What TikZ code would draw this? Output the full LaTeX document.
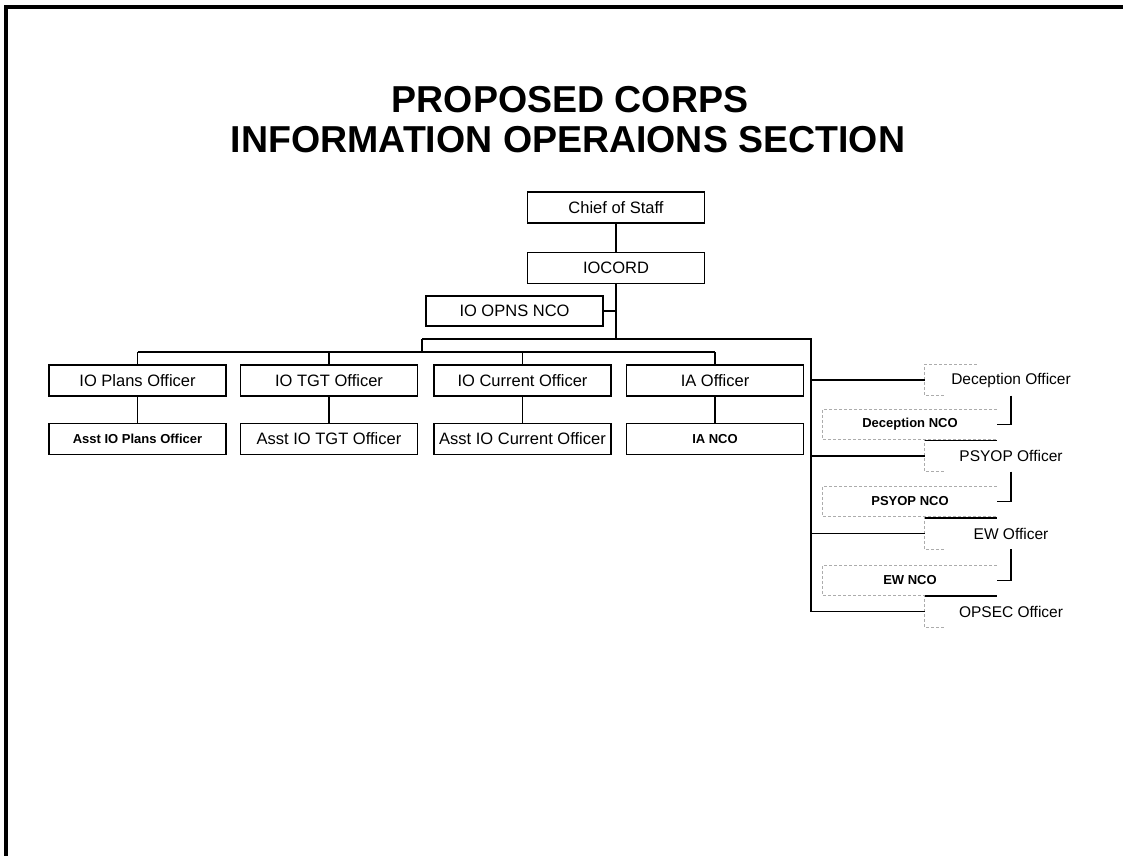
\documentclass[tikz,border=0pt]{standalone}
\usepackage{fontspec}
\setmainfont{Liberation Sans}
\usepackage{tikz}
\usetikzlibrary{positioning}

\begin{document}
\begin{tikzpicture}[
    x=1pt, y=-1pt,
    heading/.style={
        anchor=base,
        inner sep=0pt,
        font=\fontsize{37.5}{39}\selectfont\bfseries
    },
    post/.style={
        draw,
        line width=1.5pt,
        rectangle,
        minimum width=177pt,
        minimum height=31pt,
        inner sep=0pt,
        font=\fontsize{16.5}{18}\selectfont
    },
    postsmall/.style={
        post,
        font=\fontsize{13}{15}\selectfont\bfseries
    },
    officer/.style={
        rectangle,
        minimum width=172pt,
        minimum height=31pt,
        inner sep=0pt,
        font=\fontsize{15.5}{17}\selectfont
    },
    nco/.style={
        rectangle,
        minimum width=174pt,
        minimum height=30pt,
        inner sep=0pt,
        font=\fontsize{13}{15}\selectfont\bfseries
    },
    link/.style={line width=1.9pt},
    ghost/.style={draw=gray!65, densely dashed, line width=0.9pt}
]
\useasboundingbox (0,0) rectangle (1123,856);

% Frame
\draw[line width=4pt] (1123,7) -- (5.5,7) -- (5.5,856);

% Title
\node[heading] (title1) at (570,113) {PROPOSED CORPS};
\node[heading] (title2) at (568,152) {INFORMATION OPERAIONS SECTION};

% Command chain
\node[post] (cos) at (616,207.5) {Chief of Staff};
\node[post, below=28pt of cos] (iocord) {IOCORD};
\node[post, minimum height=30pt] (opns) at (514.5,311) {IO OPNS NCO};

% Officers row
\node[post] (plans) at (137.5,380.5) {IO Plans Officer};
\node[post, right=13pt of plans] (tgt) {IO TGT Officer};
\node[post, right=15pt of tgt] (cur) {IO Current Officer};
\node[post, right=14pt of cur] (ia) {IA Officer};

% Assistants row
\node[postsmall, below=26pt of plans] (asplans) {Asst IO Plans Officer};
\node[post, below=26pt of tgt] (astgt) {Asst IO TGT Officer};
\node[post, below=26pt of cur] (ascur) {Asst IO Current Officer};
\node[postsmall, below=26pt of ia] (ianco) {IA NCO};

% Staff cells on the right
\node[officer] (decoff) at (1011,380) {Deception Officer};
\node[nco] (decnco) at (910,424.5) {Deception NCO};
\node[officer] (psyoff) at (1011,456) {PSYOP Officer};
\node[nco] (psynco) at (910,501.5) {PSYOP NCO};
\node[officer] (ewoff) at (1011,533.5) {EW Officer};
\node[nco] (ewnco) at (910,580.5) {EW NCO};
\node[officer] (opsoff) at (1011,611.5) {OPSEC Officer};

% Faded outlines
\foreach \n in {decoff, psyoff, ewoff, opsoff}
    \draw[ghost] ([xshift=52pt]\n.north west) -- (\n.north west) -- (\n.south west) -- ([xshift=20pt]\n.south west);
\foreach \n in {decnco, psynco, ewnco}
    \draw[ghost] (\n.north east) -- (\n.north west) -- (\n.south west) -- (\n.south east);
\draw[line width=1.5pt] (psyoff.north west) -- (psyoff.north west -| decnco.east);
\draw[line width=1.5pt] (ewoff.north west) -- (ewoff.north west -| psynco.east);
\draw[line width=1.5pt] (opsoff.north west) -- (opsoff.north west -| ewnco.east);

% Buses
\coordinate (busL) at (422,339);
\coordinate (busR) at (811,339);
\coordinate (bus2) at (422,352);

% Connectors
\draw[link] (cos) -- (iocord);
\draw[link] (iocord.south) -- (iocord.south |- busL);
\draw[link] (opns.east) -- (opns.east -| iocord.south);
\draw[link] (busL) -- (busR) -- (busR |- opsoff.west) -- (opsoff.west);
\draw[link] (busL) -- (bus2);
\draw[link] (plans.north |- bus2) -- (ia.north |- bus2);
\foreach \n in {plans, tgt, cur, ia}
    \draw[link] (\n.north |- bus2) -- (\n.north);
\draw[link] (plans) -- (asplans);
\draw[link] (tgt) -- (astgt);
\draw[link] (cur) -- (ascur);
\draw[link] (ia) -- (ianco);
\foreach \n in {decoff, psyoff, ewoff}
    \draw[link] (\n.west -| busR) -- (\n.west);
\draw[link] (decoff.south) |- (decnco.east);
\draw[link] (psyoff.south) |- (psynco.east);
\draw[link] (ewoff.south) |- (ewnco.east);

\end{tikzpicture}
\end{document}
